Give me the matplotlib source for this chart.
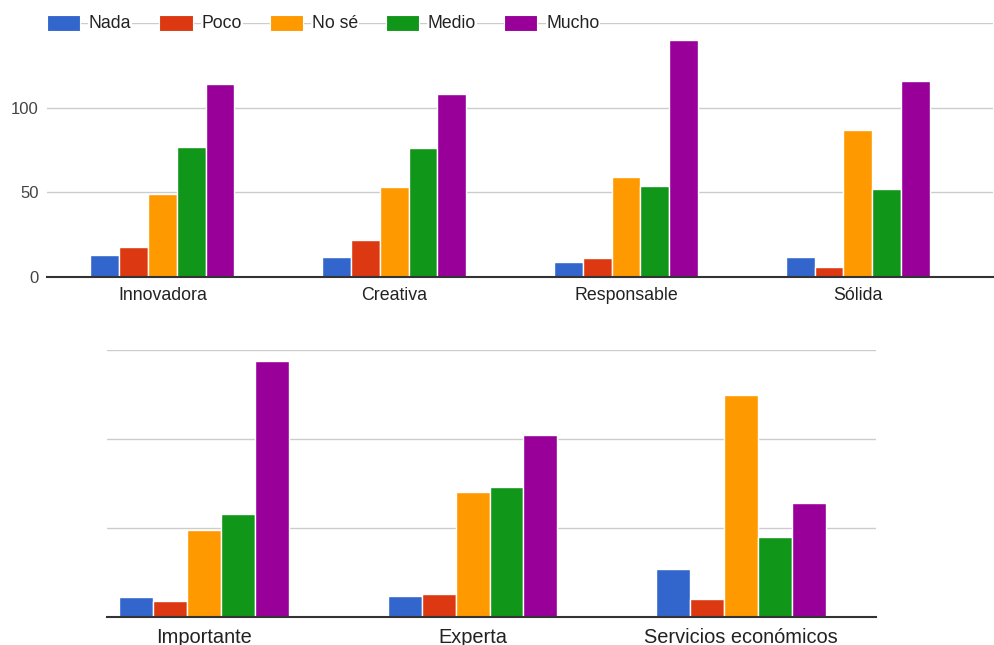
#!/usr/bin/env python3

import numpy as np
import matplotlib
matplotlib.use('Agg')
import matplotlib.pyplot as plt
from matplotlib.patches import Rectangle

plt.rcParams['font.family'] = ['Liberation Sans', 'DejaVu Sans']

series = ['Nada', 'Poco', 'No sé', 'Medio', 'Mucho']
colors = ['#3366cc', '#dc3912', '#ff9900', '#109618', '#990099']

# upper block
cats_top = ['Innovadora', 'Creativa', 'Responsable', 'Sólida']
nada_top = [13, 12, 9, 12]
poco_top = [18, 22, 11, 6]
nose_top = [49, 53, 59, 87]
medio_top = [77, 76, 54, 52]
mucho_top = [114, 108, 140, 116]

# lower block
cats_bot = ['Importante', 'Experta', 'Servicios económicos']
nada_bot = [11, 12, 27]
poco_bot = [9, 13, 10]
nose_bot = [49, 70, 125]
medio_bot = [58, 73, 45]
mucho_bot = [144, 102, 64]

W, H = 995, 645
fig = plt.figure(figsize=(W / 100, H / 100), dpi=100)


def px_axes(left, right, top, bottom):
    return fig.add_axes([left / W, (H - bottom) / H, (right - left) / W, (bottom - top) / H])


def draw(ax, cats, values, pitch, xlim, fs):
    x = np.arange(len(cats))
    n = len(values)
    for i, (vals, c) in enumerate(zip(values, colors)):
        ax.bar(x + (i - (n - 1) / 2) * pitch, vals, width=pitch, color=c,
               edgecolor='white', linewidth=1.0, zorder=3)
    ax.set_xlim(*xlim)
    ax.set_ylim(0, 150)
    ax.set_yticks([0, 50, 100, 150])
    ax.grid(axis='y', color='#cccccc', linewidth=1.0, zorder=0)
    ax.set_axisbelow(True)
    for s in ['top', 'right', 'left']:
        ax.spines[s].set_visible(False)
    ax.spines['bottom'].set_color('#333333')
    ax.spines['bottom'].set_linewidth(1.5)
    ax.spines['bottom'].set_zorder(4)
    ax.set_xticks(x)
    ax.set_xticklabels(cats, fontsize=fs, color='#222222')
    ax.tick_params(axis='x', length=0, pad=7)
    ax.tick_params(axis='y', length=0, pad=6, labelsize=12, labelcolor='#444444')
    ax.set_facecolor('none')


ax1 = px_axes(47, 993, 23, 277)
draw(ax1, cats_top, [nada_top, poco_top, nose_top, medio_top, mucho_top],
     0.1243, (-0.498, 3.583), 12.8)
ax1.set_yticklabels(['0', '50', '100', ''])

ax2 = px_axes(107, 876, 350, 617)
draw(ax2, cats_bot, [nada_bot, poco_bot, nose_bot, medio_bot, mucho_bot],
     0.1263, (-0.362, 2.503), 14.4)
ax2.set_yticklabels([])
ax2.tick_params(axis='x', pad=8)

# legend laid over the top gridline
fig.canvas.draw()
renderer = fig.canvas.get_renderer()
ly = (H - 23) / H
xpos = 47
for name, c in zip(series, colors):
    fig.add_artist(Rectangle((xpos / W, (H - 30.5) / H), 33 / W, 15 / H,
                             facecolor=c, edgecolor='white', linewidth=0.8,
                             transform=fig.transFigure, zorder=5))
    xpos += 33 + 9
    t = fig.text(xpos / W, ly, name, fontsize=12.7, color='#222222',
                 ha='left', va='center', zorder=5,
                 bbox=dict(facecolor='white', edgecolor='none', pad=0.5))
    bb = t.get_window_extent(renderer)
    xpos += bb.width + 28

fig.savefig('out.png', dpi=100)
